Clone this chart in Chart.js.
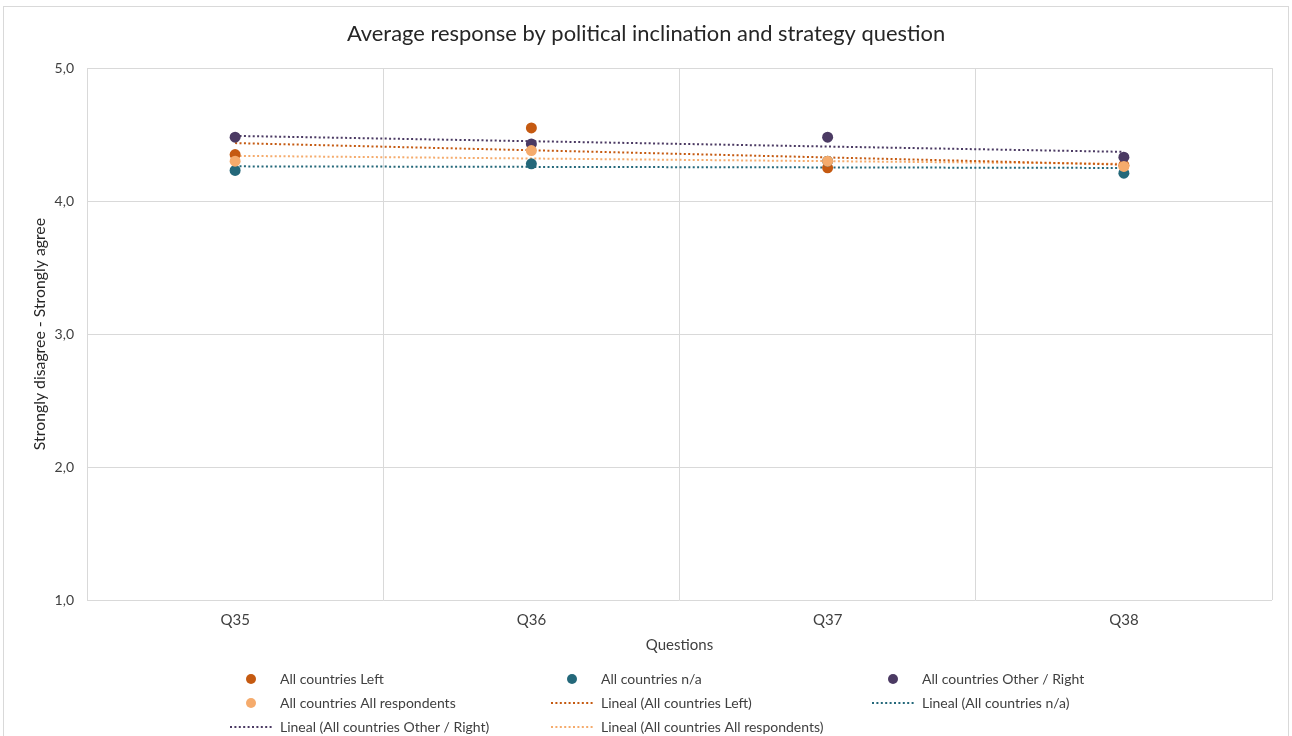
<!DOCTYPE html>
<html>
<head>
<meta charset="utf-8">
<title>Average response by political inclination and strategy question</title>
<script src="https://cdn.jsdelivr.net/npm/chart.js@4/dist/chart.umd.min.js"></script>
<style>
  html, body { margin: 0; padding: 0; background: #ffffff; }
  #wrap { position: relative; width: 1292px; height: 736px; }
</style>
</head>
<body>
<div id="wrap"><canvas id="chart" width="1292" height="736"></canvas></div>
<script>
// Survey questions on the x axis
const questions = ['Q35', 'Q36', 'Q37', 'Q38'];

// Average score per group (1 = strongly disagree, 5 = strongly agree)
const leftValues = [4.35, 4.55, 4.25, 4.27];
const naValues = [4.23, 4.28, 4.30, 4.21];
const otherRightValues = [4.48, 4.43, 4.48, 4.33];
const allRespondentsValues = [4.30, 4.38, 4.30, 4.26];

// Value axis
const yTicks = [1, 2, 3, 4, 5];

const seriesNames = ['All countries Left', 'All countries n/a', 'All countries Other / Right', 'All countries All respondents'];
const seriesColors = ['#C55A11', '#24687A', '#4B3A63', '#F5AB6C'];
const seriesValues = [leftValues, naValues, otherRightValues, allRespondentsValues];

const FONT = 'Lato, "Open Sans", sans-serif';
const TEXT = '#404040';

// Ordinary least-squares line over the category positions 1..n
function linearTrend(values) {
  const n = values.length;
  const xs = values.map((_, i) => i + 1);
  const mx = xs.reduce((a, b) => a + b, 0) / n;
  const my = values.reduce((a, b) => a + b, 0) / n;
  let sxy = 0, sxx = 0;
  xs.forEach((x, i) => { sxy += (x - mx) * (values[i] - my); sxx += (x - mx) * (x - mx); });
  const slope = sxy / sxx;
  return xs.map(x => my + slope * (x - mx));
}

const pointSets = seriesValues.map((vals, i) => ({
  label: seriesNames[i],
  data: vals,
  showLine: false,
  pointRadius: 5.5,
  pointHoverRadius: 5.5,
  pointBackgroundColor: seriesColors[i],
  pointBorderWidth: 0,
  borderColor: seriesColors[i],
  backgroundColor: seriesColors[i],
  order: 4 - i,
  legendKind: 'marker'
}));

const trendSets = seriesValues.map((vals, i) => ({
  label: 'Lineal (' + seriesNames[i] + ')',
  data: linearTrend(vals),
  showLine: true,
  pointRadius: 0,
  borderColor: seriesColors[i],
  backgroundColor: seriesColors[i],
  borderWidth: 2,
  borderDash: [2, 2.4],
  tension: 0,
  order: 10 + i,
  legendKind: 'line'
}));

// Legend drawn as a fixed three-column grid beneath the axes
const gridLegend = {
  id: 'gridLegend',
  afterDraw(chart) {
    const ctx = chart.ctx;
    const sets = chart.data.datasets;
    const colX = [251, 572, 893];
    const rowY = [679, 703, 727];
    ctx.save();
    ctx.font = '14px ' + FONT;
    ctx.textBaseline = 'middle';
    ctx.textAlign = 'left';
    sets.forEach((ds, idx) => {
      const cx = colX[idx % 3];
      const cy = rowY[Math.floor(idx / 3)];
      ctx.fillStyle = ds.borderColor;
      ctx.strokeStyle = ds.borderColor;
      if (ds.legendKind === 'marker') {
        ctx.beginPath();
        ctx.arc(cx, cy, 5, 0, Math.PI * 2);
        ctx.fill();
      } else {
        ctx.lineWidth = 2;
        ctx.setLineDash([2, 2.4]);
        ctx.beginPath();
        ctx.moveTo(cx - 21, cy);
        ctx.lineTo(cx + 21, cy);
        ctx.stroke();
        ctx.setLineDash([]);
      }
      ctx.fillStyle = TEXT;
      ctx.fillText(ds.label, cx + 29, cy);
    });
    ctx.restore();
  }
};

// Light outline around the whole chart
const frame = {
  id: 'frame',
  beforeDraw(chart) {
    const ctx = chart.ctx;
    ctx.save();
    ctx.fillStyle = '#ffffff';
    ctx.fillRect(0, 0, chart.width, chart.height);
    ctx.strokeStyle = '#d9d9d9';
    ctx.lineWidth = 1;
    ctx.strokeRect(3.5, 6.5, chart.width - 7, chart.height + 10);
    ctx.restore();
  }
};

new Chart(document.getElementById('chart'), {
  type: 'line',
  data: {
    labels: questions,
    datasets: [...pointSets, ...trendSets]
  },
  plugins: [frame, gridLegend],
  options: {
    responsive: false,
    animation: false,
    events: [],
    layout: { padding: { left: 0, right: 0, top: 0, bottom: 76 } },
    plugins: {
      legend: { display: false },
      tooltip: { enabled: false },
      title: {
        display: true,
        text: 'Average response by political inclination and strategy question',
        color: '#262626',
        font: { family: FONT, size: 21.9, weight: 'normal', lineHeight: 1.2 },
        padding: { top: 20.9, bottom: 20.9 }
      }
    },
    scales: {
      x: {
        type: 'category',
        offset: true,
        grid: { offset: true, color: '#d9d9d9', drawTicks: false },
        border: { display: false },
        ticks: { color: TEXT, font: { family: FONT, size: 15, lineHeight: 1.2 }, padding: 11, maxRotation: 0 },
        title: {
          display: true,
          text: 'Questions',
          color: TEXT,
          font: { family: FONT, size: 15, lineHeight: 1.2 },
          padding: { top: 0, bottom: 6 }
        },
        afterFit(scale) { scale.height = 60; }
      },
      y: {
        min: yTicks[0],
        max: yTicks[yTicks.length - 1],
        afterBuildTicks(scale) { scale.ticks = yTicks.map(v => ({ value: v })); },
        grid: { color: '#d9d9d9', drawTicks: false },
        border: { display: false },
        ticks: {
          color: TEXT,
          font: { family: FONT, size: 14 },
          padding: 13,
          callback: v => Number(v).toFixed(1).replace('.', ',')
        },
        title: {
          display: true,
          text: 'Strongly disagree - Strongly agree',
          color: '#262626',
          font: { family: FONT, size: 15.8, lineHeight: 1.2 },
          padding: { top: 30.5, bottom: 0 }
        },
        afterFit(scale) { scale.width = 87; }
      },
      // empty right-hand margin so the plot ends short of the frame
      yMargin: {
        position: 'right',
        display: true,
        grid: { display: false },
        border: { display: false },
        ticks: { display: false },
        afterFit(scale) { scale.width = 20; }
      }
    }
  }
});
</script>
</body>
</html>
